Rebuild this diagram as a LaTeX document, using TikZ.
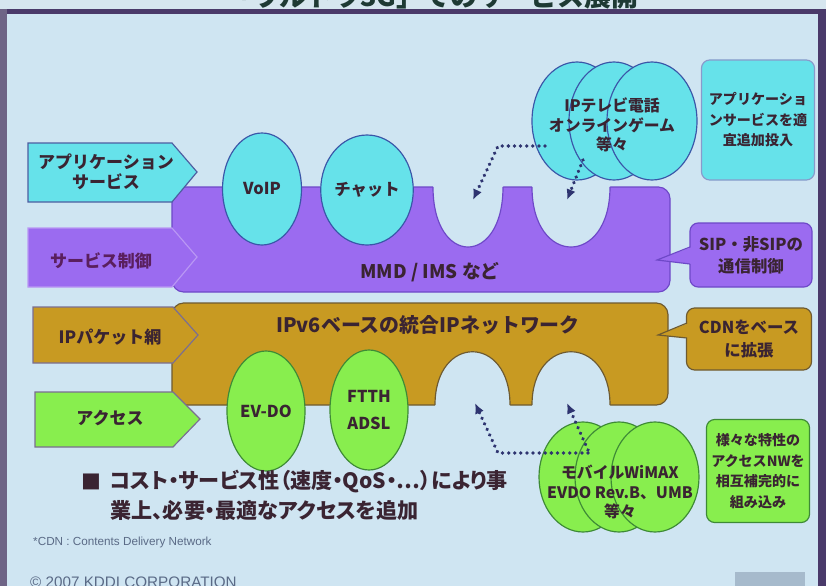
\documentclass[tikz,border=0pt]{standalone}
\usepackage{fontspec}
\setmainfont{Noto Sans CJK JP}
\newfontfamily\lat{Liberation Sans}
\usetikzlibrary{shapes.geometric,arrows.meta}

\definecolor{bgc}{HTML}{CFE5F2}
\definecolor{topbg}{HTML}{D6E6EF}
\definecolor{titlec}{HTML}{1E3A34}
\definecolor{linec}{HTML}{4A3A6A}
\definecolor{edgec}{HTML}{6E6486}
\definecolor{cyanf}{HTML}{66E2EA}
\definecolor{cyand}{HTML}{3A56A8}
\definecolor{purf}{HTML}{9B6BF0}
\definecolor{purd}{HTML}{6E48C8}
\definecolor{goldf}{HTML}{C89A22}
\definecolor{goldd}{HTML}{6E5A30}
\definecolor{grnf}{HTML}{88EE4E}
\definecolor{grnd}{HTML}{3E8A36}
\definecolor{lblline}{HTML}{7A6E92}
\definecolor{txt}{HTML}{3A2432}
\definecolor{purtxt}{HTML}{5A1F5E}
\definecolor{dotc}{HTML}{2E3470}
\definecolor{footc}{HTML}{5A6A86}

\tikzset{
  lbl/.style={draw=lblline,line width=1pt},
  lbltext/.style={inner sep=0pt,align=center,text=txt,font=\fontsize{14.5}{17}\selectfont\bfseries},
  oval/.style={ellipse,line width=1pt,inner sep=0pt,align=center,text=txt,font=\fontsize{14}{23}\selectfont\bfseries},
  cyanoval/.style={oval,fill=cyanf,draw=cyand},
  greenoval/.style={oval,fill=grnf,draw=grnd},
  cloudtext/.style={inner sep=0pt,align=center,text=txt,font=\fontsize{13.5}{16.5}\selectfont\bfseries},
  notebox/.style={rectangle,rounded corners=7pt,line width=1pt,inner sep=0pt,align=center,text=txt,font=\fontsize{12}{17.5}\selectfont\bfseries},
  calltext/.style={notebox,font=\fontsize{14}{19}\selectfont\bfseries},
  bandtext/.style={inner sep=0pt,text=txt,font=\fontsize{16}{18}\selectfont\bfseries},
  dotarr/.style={->,>={Latex[length=9pt,width=8pt]},line width=3.2pt,dash pattern=on 0.01pt off 5.2pt,line cap=round,color=dotc},
}

\begin{document}
\begin{tikzpicture}[x=0.03cm,y=-0.03cm]
\useasboundingbox (0,0) rectangle (826,586);
\clip (0,0) rectangle (826,586);

\fill[bgc] (0,0) rectangle (826,586);
\fill[topbg] (0,0) rectangle (826,10);
\node[anchor=base,inner sep=0pt,text=titlec,font=\fontsize{23}{23}\selectfont\bfseries] (ttl) at (432,6) {「ウルトラ3G」でのサービス展開};
\fill[linec] (0,9) rectangle (826,14);
\fill[edgec] (0,9) rectangle (7,586);
\fill[linec] (818,9) rectangle (826,586);
\fill[color=footc!35!bgc] (735,572) rectangle (805,590);


\filldraw[fill=purf,draw=purd,line width=1pt,rounded corners=10pt] (172,187) rectangle (670,292);
\fill[bgc] (433,185) -- (433,187) .. controls (433,267) and (503,267) .. (503,187) -- (503,185) -- cycle;
\fill[bgc] (532,185) -- (532,187) .. controls (532,267) and (610,267) .. (610,187) -- (610,185) -- cycle;
\draw[purd,line width=1pt] (433,187) .. controls (433,267) and (503,267) .. (503,187);
\draw[purd,line width=1pt] (532,187) .. controls (532,267) and (610,267) .. (610,187);

\filldraw[fill=goldf,draw=goldd,line width=1pt,rounded corners=10pt] (172,303) rectangle (668,405);
\fill[bgc] (435,407) -- (435,405) .. controls (435,334) and (510,334) .. (510,405) -- (510,407) -- cycle;
\fill[bgc] (532,407) -- (532,405) .. controls (532,334) and (610,334) .. (610,405) -- (610,407) -- cycle;
\draw[goldd,line width=1pt] (435,405) .. controls (435,334) and (510,334) .. (510,405);
\draw[goldd,line width=1pt] (532,405) .. controls (532,334) and (610,334) .. (610,405);

\node[bandtext] (mmd) at (430,272) {MMD / IMS など};
\node[bandtext,font=\fontsize{17}{19}\selectfont\bfseries] (ipv6) at (428,325) {IPv6ベースの統合IPネットワーク};



\filldraw[lbl,fill=cyanf,draw=cyand!70!lblline] (28,143) -- (172,143) -- (197,172) -- (172,202) -- (28,202) -- cycle;
\filldraw[lbl,fill=purf,draw=purf!70!white] (28,228) -- (172,228) -- (197,257) -- (172,287) -- (28,287) -- cycle;
\filldraw[lbl,fill=goldf] (33,307) -- (173,307) -- (198,335) -- (173,363) -- (33,363) -- cycle;
\filldraw[lbl,fill=grnf] (35,392) -- (173,392) -- (200,419) -- (173,447) -- (35,447) -- cycle;

\node[lbltext] (appl) at (106,172) {アプリケーション\\サービス};
\node[lbltext,text=purtxt] (ctrl) at (101,261) {サービス制御};
\node[lbltext] (pkt) at (110,337) {IPパケット網};
\node[lbltext] (acc) at (110,418) {アクセス};



\node[cyanoval,minimum width=2.37cm,minimum height=3.36cm] (voip) at (262,189) {VoIP};
\node[cyanoval,minimum width=2.4cm,minimum height=3.3cm] (chat) at (367,190) {チャット};
\node[greenoval,minimum width=2.34cm,minimum height=3.6cm] (evdo) at (266,411) {EV-DO};
\node[greenoval,minimum width=2.34cm,minimum height=3.6cm] (ftth) at (369,410) {FTTH\\ADSL};


\node[cyanoval,minimum width=2.7cm,minimum height=3.54cm] (ipc1) at (577,121) {};
\node[cyanoval,minimum width=2.7cm,minimum height=3.54cm] (ipc2) at (614,121) {};
\node[cyanoval,minimum width=2.7cm,minimum height=3.54cm] (ipc3) at (652,121) {};
\node[cloudtext] (ipt) at (612,125) {IPテレビ電話\\オンラインゲーム\\等々};

\node[greenoval,minimum width=2.64cm,minimum height=3.3cm] (mob1) at (583,477) {};
\node[greenoval,minimum width=2.64cm,minimum height=3.3cm] (mob2) at (619,477) {};
\node[greenoval,minimum width=2.64cm,minimum height=3.3cm] (mob3) at (655,477) {};
\node[cloudtext] (mobt) at (620,492) {モバイルWiMAX\\EVDO Rev.B、UMB\\等々};



\node[notebox,fill=cyanf,draw=cyand!60!white,minimum width=3.39cm,minimum height=3.6cm] (addapp) at (758,120) {アプリケーショ\\ンサービスを適\\宜追加投入};
\node[notebox,fill=grnf,draw=grnd,minimum width=3.09cm,minimum height=3.09cm] (mixnw) at (758,471) {様々な特性の\\アクセスNWを\\相互補完的に\\組み込み};

\node[calltext,fill=purf,draw=purd,minimum width=3.66cm,minimum height=1.92cm] (sip) at (751,255) {SIP・非SIPの\\通信制御};
\fill[purf] (692,247) -- (657,260) -- (692,264) -- cycle;
\draw[purd,line width=1pt] (690,247) -- (657,260) -- (690,264);

\node[calltext,fill=goldf,draw=goldd,minimum width=3.75cm,minimum height=1.86cm] (cdn) at (749,339) {CDNをベース\\に拡張};
\fill[goldf] (689,323) -- (658,335) -- (689,338) -- cycle;
\draw[goldd,line width=1pt] (687,323) -- (658,335) -- (687,338);



\coordinate (ipa) at (545,146);
\coordinate (ipb) at (498,146);
\coordinate (ipc) at (583,160);
\coordinate (nt1) at (473,200);
\coordinate (nt2) at (567,200);
\coordinate (moa) at (588,453);
\coordinate (mob) at (498,453);
\coordinate (moc) at (588,450);
\coordinate (nb1) at (475,403);
\coordinate (nb2) at (567,403);

\draw[dotarr] (ipa) -- (ipb) -- (nt1);
\draw[dotarr] (ipc) -- (nt2);
\draw[dotarr] (moa) -- (mob) -- (nb1);
\draw[dotarr] (moc) -- (nb2);



\node[inner sep=0pt,text=txt,font=\fontsize{17}{25.6}\selectfont\bfseries] (blt) at (91,482) {■};
\node[anchor=north west,inner sep=0pt,align=left,text=txt,font=\fontsize{18}{25.6}\selectfont\bfseries\addfontfeatures{RawFeature=+palt}] (note) at (110,470) {コスト・サービス性（速度・QoS・…）により事\\業上、必要・最適なアクセスを追加};

\node[anchor=west,inner sep=0pt,text=footc,font=\lat\fontsize{10}{12}\selectfont] (cdnn) at (33,542) {*CDN : Contents Delivery Network};
\node[anchor=base west,inner sep=0pt,text=footc,font=\lat\fontsize{13}{15}\selectfont] (copy) at (30,587) {© 2007 KDDI CORPORATION};

\end{tikzpicture}
\end{document}
